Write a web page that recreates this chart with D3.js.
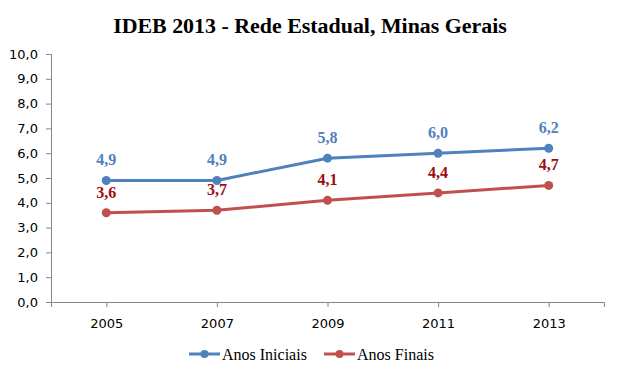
<!DOCTYPE html>
<html>
<head>
<meta charset="utf-8">
<script src="https://cdn.jsdelivr.net/npm/d3@7"></script>
<style>
  body { margin: 0; background: #fff; }
  svg { display: block; }
  .axis text { font-family: "DejaVu Sans", Verdana, sans-serif; font-size: 13px; fill: #000; }
  .axis path, .axis line { stroke: #868686; }
</style>
</head>
<body>
<svg width="620" height="376"></svg>
<script>
const width = 620;
const height = 376;

const years = ["2005", "2007", "2009", "2011", "2013"];
const anosIniciais = [4.9, 4.9, 5.8, 6.0, 6.2];
const anosFinais = [3.6, 3.7, 4.1, 4.4, 4.7];
const yTicks = [0, 1, 2, 3, 4, 5, 6, 7, 8, 9, 10];

const series = [
    { name: "Anos Iniciais", values: anosIniciais, color: "#4f81bd", labelColor: "#4f81bd" },
    { name: "Anos Finais", values: anosFinais, color: "#c0504d", labelColor: "#9c0d0d" }
];

const fmt = v => d3.format(".1f")(v).replace(".", ",");

const svg = d3.select("svg");

const x = d3.scalePoint()
    .domain(years)
    .range([51, 604])
    .padding(0.5);

const y = d3.scaleLinear()
    .domain([0, 10])
    .range([302, 54]);

// titulo
const title = svg.append("text")
    .attr("x", 310)
    .attr("y", 33)
    .attr("text-anchor", "middle")
    .style("font-family", "'Liberation Serif', serif")
    .style("font-weight", "bold")
    .style("font-size", "22px")
    .text("IDEB 2013 - Rede Estadual, Minas Gerais");
const tw = title.node().getComputedTextLength();
title.style("font-size", (22 * 394 / tw) + "px");

// eixos
svg.append("g")
    .attr("class", "axis")
    .attr("transform", "translate(51,0)")
    .call(d3.axisLeft(y).tickValues(yTicks).tickFormat(fmt).tickSizeOuter(0).tickSize(5).tickPadding(8));

svg.append("g")
    .attr("class", "axis")
    .attr("transform", "translate(0,302)")
    .call(d3.axisBottom(x).tickSize(5).tickSizeOuter(5).tickPadding(12));

const line = d3.line()
    .x((d, i) => x(years[i]))
    .y(d => y(d));

series.forEach(s => {
    const g = svg.append("g");
    g.append("path")
        .datum(s.values)
        .attr("fill", "none")
        .attr("stroke", s.color)
        .attr("stroke-width", 3)
        .attr("stroke-linejoin", "round")
        .attr("d", line);
    g.selectAll("circle")
        .data(s.values)
        .join("circle")
        .attr("cx", (d, i) => x(years[i]))
        .attr("cy", d => y(d))
        .attr("r", 4.5)
        .attr("fill", s.color);
    g.selectAll("text")
        .data(s.values)
        .join("text")
        .attr("x", (d, i) => x(years[i]))
        .attr("y", d => y(d) - 15)
        .attr("text-anchor", "middle")
        .attr("fill", s.labelColor)
        .style("font-family", "'Liberation Serif', serif")
        .style("font-weight", "bold")
        .style("font-size", "16px")
        .text(fmt);
});

// legenda
const legend = svg.append("g").attr("transform", "translate(0,354)");
const legendX = [189, 324];
series.forEach((s, i) => {
    const lg = legend.append("g").attr("transform", `translate(${legendX[i]},0)`);
    lg.append("line")
        .attr("x1", 0).attr("x2", 31)
        .attr("stroke", s.color)
        .attr("stroke-width", 3);
    lg.append("circle")
        .attr("cx", 15.5)
        .attr("r", 4)
        .attr("fill", s.color);
    lg.append("text")
        .attr("x", 33)
        .attr("dy", "0.35em")
        .style("font-family", "'Liberation Serif', serif")
        .style("font-size", "16px")
        .text(s.name);
});
</script>
</body>
</html>
